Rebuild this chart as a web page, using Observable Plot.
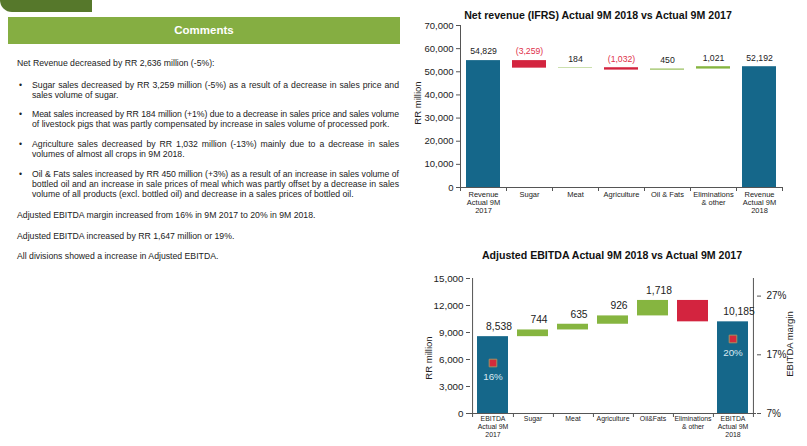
<!DOCTYPE html>
<html><head><meta charset="utf-8">
<script src="https://cdn.jsdelivr.net/npm/d3@7"></script>
<script src="https://cdn.jsdelivr.net/npm/@observablehq/plot@0.6"></script>
<style>
body{margin:0;width:807px;height:446px;overflow:hidden;background:#fff;font-family:"Liberation Sans",Arial,sans-serif;position:relative;color:#222}
.abs{position:absolute;white-space:nowrap}
.tab{left:0;top:0;width:92px;height:12px;background:#56782b;border-bottom-left-radius:14px}
.hdr{left:8px;top:17px;width:392px;height:27px;background:#85ae42;color:#fff;font-weight:bold;font-size:11.5px;line-height:27px;text-align:center}
.ln{font-size:8.7px;line-height:10px;height:10px}
.j{text-align:justify;text-align-last:justify}
.rot{transform:translate(-50%,-50%) rotate(-90deg);font-size:9.5px;color:#222}
.ttl{font-weight:bold;font-size:10.6px;transform:translate(-50%,-50%);color:#111}
.chart{position:absolute}
</style></head><body>
<div class="abs tab"></div>
<div class="abs hdr">Comments</div>
<div id="text"></div>
<div class="abs ttl" style="left:598px;top:15px">Net revenue (IFRS) Actual 9M 2018 vs Actual 9M 2017</div>
<div class="abs ttl" style="left:612px;top:255px">Adjusted EBITDA Actual 9M 2018 vs Actual 9M 2017</div>
<div class="abs rot" style="left:417px;top:103px">RR million</div>
<div class="abs rot" style="left:428px;top:358px">RR million</div>
<div class="abs rot" style="left:789px;top:344px">EBITDA margin</div>
<div id="c1" class="chart" style="left:400px;top:0px"></div>
<div id="c2" class="chart" style="left:400px;top:264px"></div>
<script>
// ---------- data ----------
const commentLines = [
  "Net Revenue decreased by RR 2,636 million (-5%):",
  "Sugar sales decreased by RR 3,259 million (-5%) as a result of a decrease in sales price and",
  "sales volume of sugar.",
  "Meat sales increased by RR 184 million (+1%) due to a decrease in sales price and sales volume",
  "of livestock pigs that was partly compensated by increase in sales volume of processed pork.",
  "Agriculture sales decreased by RR 1,032 million (-13%) mainly due to a decrease in sales",
  "volumes of almost all crops in 9M 2018.",
  "Oil & Fats sales increased by RR 450 million (+3%) as a result of an increase in sales volume of",
  "bottled oil and an increase in sale prices of meal which was partly offset by a decrease in sales",
  "volume of all products (excl. bottled oil) and decrease in a sales prices of bottled oil.",
  "Adjusted EBITDA margin increased from 16% in 9M 2017 to 20% in 9M 2018.",
  "Adjusted EBITDA increased by RR 1,647 million or 19%.",
  "All divisions showed a increase in Adjusted EBITDA."
];

const revCategories = ["Revenue\nActual 9M\n2017","Sugar","Meat","Agriculture","Oil & Fats","Eliminations\n& other","Revenue\nActual 9M\n2018"];
const revValues = [54829, -3259, 184, -1032, 450, 1021, 52192];
const revKinds = ["total","delta","delta","delta","delta","delta","total"];
const revLabels = ["54,829","(3,259)","184","(1,032)","450","1,021","52,192"];
const revTicks = [0,10000,20000,30000,40000,50000,60000,70000];

const ebCategories = ["EBITDA\nActual 9M\n2017","Sugar","Meat","Agriculture","Oil&Fats","Eliminations\n& other","EBITDA\nActual 9M\n2018"];
const ebValues = [8538, 744, 635, 926, 1718, -2376, 10185];
const ebKinds = ["total","delta","delta","delta","delta","delta","total"];
const ebLabels = ["8,538","744","635","926","1,718","","10,185"];
const ebTicks = [0,3000,6000,9000,12000,15000];

const marginCategories = [ebCategories[0], ebCategories[6]];
const marginValues = [15.6, 19.7];
const marginLabels = ["16%","20%"];
const marginTicks = [7,17,27];
const marginDomain = [7,30];

// ---------- styles ----------
const TEAL="#15678a", GREEN="#86b540", RED="#d3243f", LBLRED="#e0304a", AX="#555";
const FONT="Liberation Sans, Arial, sans-serif";

// ---------- left text ----------
const lineLayout = [
  {x:17,y:63,j:false,b:false},
  {x:32,y:85,j:true,b:true},{x:32,y:95,j:false},
  {x:32,y:114,j:true,b:true},{x:32,y:124,j:false},
  {x:32,y:144,j:true,b:true},{x:32,y:154,j:false},
  {x:32,y:174,j:true,b:true},{x:32,y:184,j:true},{x:32,y:194,j:false},
  {x:17,y:214.5,j:false},{x:17,y:236,j:false},{x:17,y:256,j:false}
];
const tc=document.getElementById("text");
commentLines.forEach((t,i)=>{
  const L=lineLayout[i];
  const d=document.createElement("div");
  d.className="abs ln"+(L.j?" j":"");
  d.style.left=L.x+"px"; d.style.top=(L.y-5)+"px";
  if(L.j) d.style.width=(399-L.x)+"px";
  d.textContent=t; tc.appendChild(d);
  if(L.j){
    // tighten letter spacing if the natural line is wider than the column
    let ls=0;
    while(d.scrollWidth>d.clientWidth+0.5 && ls>-0.6){ls-=0.05;d.style.letterSpacing=ls+"px";}
  }
  if(L.b){const b=document.createElement("div");b.className="abs ln";b.style.left="19px";b.style.top=(L.y-5)+"px";b.textContent="•";tc.appendChild(b);}
});

// ---------- waterfall builder ----------
function buildRows(cats, vals, kinds, labels){
  let cum=0;
  return cats.map((c,i)=>{
    const v=vals[i]; let y1,y2;
    if(kinds[i]==="total"){y1=0;y2=v;cum=v;} else {y1=cum;y2=cum+v;cum+=v;}
    return {cat:c,y1,y2,top:Math.max(y1,y2),value:v,kind:kinds[i],label:labels[i],
            color:kinds[i]==="total"?"total":(v<0?"neg":"pos")};
  });
}

// ---------- chart 1 ----------
{
  const W=400,H=220,mL=60,mR=18,mT=25,mB=33, yMax=70000;
  const step=(W-mL-mR)/revCategories.length;
  const rows=buildRows(revCategories,revValues,revKinds,revLabels);
  const neg=rows.filter(d=>d.kind==="delta"&&d.value<0), pos=rows.filter(d=>!(d.kind==="delta"&&d.value<0));
  const p=Plot.plot({
    width:W,height:H,marginLeft:mL,marginRight:mR,marginTop:mT,marginBottom:mB,
    style:{fontFamily:FONT,color:"#222",background:"transparent",overflow:"visible"},
    x:{domain:revCategories,paddingInner:0.26,paddingOuter:0.13,axis:null},
    y:{domain:[0,yMax],axis:null},
    color:{domain:["total","pos","neg"],range:[TEAL,GREEN,RED]},
    marks:[
      Plot.barY(rows,{x:"cat",y1:"y1",y2:"y2",fill:"color"}),
      Plot.ruleY([0],{stroke:AX}),
      Plot.ruleX([revCategories[0]],{x:d=>d,dx:-step/2,y1:0,y2:yMax,stroke:AX}),
      Plot.ruleX(revCategories,{x:d=>d,dx:step/2,y1:0,y2:0,insetTop:0,insetBottom:-4,stroke:AX}),
      Plot.ruleX([revCategories[0]],{x:d=>d,dx:-step/2,y1:0,y2:0,insetTop:0,insetBottom:-4,stroke:AX}),
      Plot.axisY({ticks:revTicks,tickFormat:d3.format(","),tickSize:4,tickPadding:3,fontSize:9.5,label:null,stroke:AX}),
      Plot.text(pos,{x:"cat",y:"top",text:"label",dy:-9,fontSize:8.7,fill:"#222"}),
      Plot.text(neg,{x:"cat",y:"top",text:"label",dy:-9,fontSize:8.7,fill:LBLRED}),
      Plot.text(revCategories,{x:d=>d,frameAnchor:"bottom",text:d=>d,lineAnchor:"top",dy:3,fontSize:7.5,lineHeight:1.13,fill:"#222"})
    ]
  });
  document.getElementById("c1").appendChild(p);
}

// ---------- chart 2 ----------
{
  const W=407,H=182,mL=70,mR=51,mT=14,mB=33, yMax=15000;
  const step=(W-mL-mR)/ebCategories.length;
  const rows=buildRows(ebCategories,ebValues,ebKinds,ebLabels);
  const toY=d3.scaleLinear().domain(marginDomain).range([0,yMax]);
  const mRows=marginCategories.map((c,i)=>({cat:c,value:marginValues[i],label:marginLabels[i]}));
  const p=Plot.plot({
    width:W,height:H,marginLeft:mL,marginRight:mR,marginTop:mT,marginBottom:mB,
    style:{fontFamily:FONT,color:"#222",background:"transparent",overflow:"visible"},
    x:{domain:ebCategories,paddingInner:0.22,paddingOuter:0.11,axis:null},
    y:{domain:[0,yMax],axis:null},
    color:{domain:["total","pos","neg"],range:[TEAL,GREEN,RED]},
    marks:[
      Plot.barY(rows,{x:"cat",y1:"y1",y2:"y2",fill:"color"}),
      Plot.ruleY([0],{stroke:AX}),
      Plot.ruleX([ebCategories[0]],{x:d=>d,dx:-step/2,y1:0,y2:yMax,stroke:AX}),
      Plot.ruleX([ebCategories[ebCategories.length-1]],{x:d=>d,dx:step/2,y1:0,y2:yMax,stroke:AX}),
      Plot.ruleX(ebCategories,{x:d=>d,dx:step/2,y1:0,y2:0,insetTop:0,insetBottom:-4,stroke:AX}),
      Plot.ruleX([ebCategories[0]],{x:d=>d,dx:-step/2,y1:0,y2:0,insetTop:0,insetBottom:-4,stroke:AX}),
      Plot.axisY({ticks:ebTicks,tickFormat:d3.format(","),tickSize:4,tickPadding:3,fontSize:9.8,label:null,stroke:AX}),
      Plot.axisY({anchor:"right",ticks:marginTicks.map(toY),tickFormat:d=>Math.round(toY.invert(d))+"%",tickSize:4,tickPadding:6,fontSize:10,label:null,stroke:AX}),
      Plot.text(rows.filter(d=>d.label),{x:"cat",y:"top",text:"label",dy:-10,dx:6,fontSize:10.3,fill:"#222"}),
      Plot.dot(mRows,{x:"cat",y:d=>toY(d.value),symbol:"square",r:4.3,fill:"#d42b3a",stroke:"#a89060",strokeWidth:1}),
      Plot.text(mRows,{x:"cat",y:d=>toY(d.value),text:"label",dy:14,fontSize:9.8,fill:"#dbe9f2"}),
      Plot.text(ebCategories,{x:d=>d,frameAnchor:"bottom",text:d=>d,lineAnchor:"top",dy:1.5,fontSize:6.9,lineHeight:1.16,fill:"#222"})
    ]
  });
  document.getElementById("c2").appendChild(p);
}
</script>
</body></html>
